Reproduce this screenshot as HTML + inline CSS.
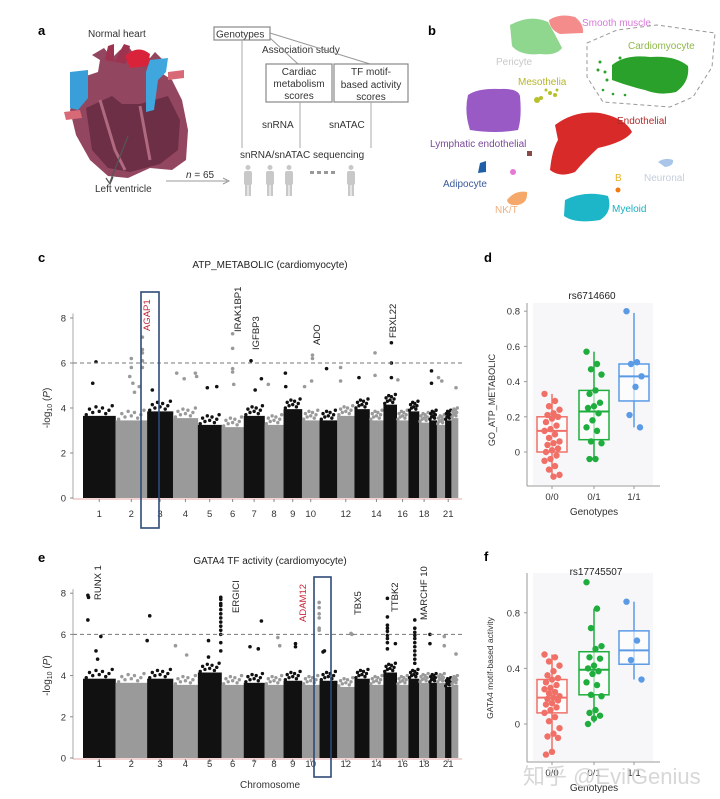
<!DOCTYPE html>
<html><head><meta charset="utf-8">
<style>
html,body{margin:0;padding:0;background:#fff;}
svg{display:block;font-family:"Liberation Sans","Noto Sans CJK SC",sans-serif;}
</style></head>
<body>
<svg id="fig" width="720" height="799" viewBox="0 0 720 799" xmlns="http://www.w3.org/2000/svg">
<rect width="720" height="799" fill="#fff"/>
<!-- panel a -->
<g>
<text x="38" y="35" font-size="13" font-weight="bold">a</text>
<text x="88" y="37" font-size="10" fill="#333">Normal heart</text>
<g>
<path d="M80 78 L98 72 L100 60 L92 55 L104 48 L112 58 L120 50 L128 46 L134 54 L150 58 L155 52 L165 62 L160 72 L172 80 L182 100 L188 130 L186 160 L172 170 L150 168 L128 178 L108 176 L90 160 L76 135 L70 110 Z" fill="#93465f"/>
<path d="M86 108 L112 96 L122 104 L140 104 L168 96 L180 120 L178 150 L160 164 L130 172 L108 168 L92 150 Z" fill="#6d2f46"/>
<path d="M100 100 L115 150 L125 170 M140 106 L150 160" stroke="#b06a80" stroke-width="3" fill="none"/>
<path d="M105 60 L108 46 L114 44 L114 62 L124 44 L130 46 L126 64 Z" fill="#9e3350"/>
<path d="M125 56 Q138 44 150 54 L148 66 L130 68 Z" fill="#d8233b"/>
<path d="M70 72 L88 70 L88 98 L78 110 L70 108 Z" fill="#3a9fd8"/>
<path d="M150 60 L168 58 L166 72 L158 80 L154 110 L146 112 L146 72 Z" fill="#3fa7de"/>
<path d="M64 112 L80 110 L82 118 L66 120 Z" fill="#d86a78"/>
<path d="M168 72 L184 70 L184 78 L168 80 Z" fill="#d86a78"/>
<path d="M128 136 L110 182" stroke="#555" stroke-width="1.2"/>
<path d="M106 178 L110 184 L113 177" fill="none" stroke="#555" stroke-width="1.2"/>
</g>
<text x="95" y="192" font-size="10" fill="#333">Left ventricle</text>
<text x="186" y="178" font-size="10" fill="#333"><tspan font-style="italic">n</tspan> = 65</text>
<line x1="166" y1="181" x2="227" y2="181" stroke="#999" stroke-width="1"/>
<path d="M223 178 L229 181 L223 184" fill="none" stroke="#999"/>
<rect x="214" y="27" width="56" height="13" fill="#fff" stroke="#888" stroke-width="1.2"/>
<text x="216" y="37.5" font-size="10" fill="#333">Genotypes</text>
<text x="262" y="53" font-size="10" fill="#333">Association study</text>
<line x1="270" y1="33" x2="370" y2="64" stroke="#999"/>
<line x1="270" y1="38" x2="298" y2="64" stroke="#999"/>
<line x1="242" y1="40" x2="242" y2="148" stroke="#aaa"/>
<rect x="266" y="64" width="66" height="38" fill="#fff" stroke="#888" stroke-width="1.2"/>
<text x="299" y="75" font-size="10" fill="#333" text-anchor="middle">Cardiac</text>
<text x="299" y="87" font-size="10" fill="#333" text-anchor="middle">metabolism</text>
<text x="299" y="99" font-size="10" fill="#333" text-anchor="middle">scores</text>
<rect x="334" y="64" width="74" height="38" fill="#fff" stroke="#888" stroke-width="1.2"/>
<text x="371" y="75" font-size="10" fill="#333" text-anchor="middle">TF motif-</text>
<text x="371" y="88" font-size="10" fill="#333" text-anchor="middle">based activity</text>
<text x="371" y="100" font-size="10" fill="#333" text-anchor="middle">scores</text>
<line x1="300" y1="102" x2="300" y2="148" stroke="#aaa"/>
<line x1="371" y1="102" x2="371" y2="148" stroke="#aaa"/>
<text x="262" y="128" font-size="10" fill="#333">snRNA</text>
<text x="329" y="128" font-size="10" fill="#333">snATAC</text>
<text x="240" y="158" font-size="10" fill="#333">snRNA/snATAC sequencing</text>
<g fill="#c8c8c8">
<g transform="translate(248,165)"><circle cx="0" cy="2.5" r="2.5"/><rect x="-4" y="6" width="8" height="14" rx="2"/><rect x="-3" y="19" width="2.5" height="12"/><rect x="0.5" y="19" width="2.5" height="12"/></g>
<g transform="translate(270,165)"><circle cx="0" cy="2.5" r="2.5"/><rect x="-4" y="6" width="8" height="14" rx="2"/><rect x="-3" y="19" width="2.5" height="12"/><rect x="0.5" y="19" width="2.5" height="12"/></g>
<g transform="translate(289,165)"><circle cx="0" cy="2.5" r="2.5"/><rect x="-4" y="6" width="8" height="14" rx="2"/><rect x="-3" y="19" width="2.5" height="12"/><rect x="0.5" y="19" width="2.5" height="12"/></g>
<g transform="translate(351,165)"><circle cx="0" cy="2.5" r="2.5"/><rect x="-4" y="6" width="8" height="14" rx="2"/><rect x="-3" y="19" width="2.5" height="12"/><rect x="0.5" y="19" width="2.5" height="12"/></g>
<rect x="310" y="171" width="4" height="3" fill="#999"/><rect x="317" y="171" width="4" height="3" fill="#999"/><rect x="324" y="171" width="4" height="3" fill="#999"/><rect x="331" y="171" width="4" height="3" fill="#999"/>
</g>
</g>
<!-- panel b -->
<g>
<text x="428" y="35" font-size="13" font-weight="bold">b</text>
<path d="M510 25 Q530 14 548 22 Q556 36 562 48 Q556 56 540 54 Q520 56 512 46 Z" fill="#8fd68e"/>
<path d="M549 20 Q560 13 575 17 Q584 24 583 33 L560 34 Q550 30 549 20 Z" fill="#f48c8c"/>
<path d="M587 43 L617 30 L657 25 L715 33 L712 67 L693 97 L670 107 L603 102 L587 77 Z" fill="none" stroke="#999" stroke-dasharray="4,3"/>
<path d="M612 65 Q625 54 650 57 Q675 55 688 66 Q690 82 676 92 Q660 96 645 90 Q628 86 612 80 Z" fill="#2aa12a"/>
<g fill="#2aa12a"><circle cx="600" cy="62" r="1.5"/><circle cx="605" cy="72" r="1.5"/><circle cx="598" cy="70" r="1.5"/><circle cx="607" cy="80" r="1.5"/><circle cx="603" cy="90" r="1.3"/><circle cx="613" cy="94" r="1.3"/><circle cx="625" cy="95" r="1.3"/><circle cx="620" cy="58" r="1.5"/></g>
<path d="M468 95 Q478 88 500 89 Q518 88 520 96 Q522 118 518 130 Q495 134 470 130 Q464 112 468 95 Z" fill="#9a5ac6"/>
<g fill="#b7c12a"><circle cx="537" cy="100" r="3"/><circle cx="541" cy="98" r="2"/><circle cx="550" cy="93" r="2"/><circle cx="555" cy="95" r="2"/><circle cx="546" cy="90" r="1.5"/><circle cx="557" cy="90" r="1.5"/></g>
<path d="M555 125 Q575 110 600 113 Q625 118 632 132 Q625 142 598 148 Q585 160 575 172 Q560 178 550 170 Q552 150 558 140 Z" fill="#d92a2a"/>
<rect x="527" y="151" width="5" height="5" fill="#8a4a4a"/>
<path d="M480 163 L486 161 L486 172 L478 173 Z" fill="#1f5fa8"/>
<circle cx="513" cy="172" r="3" fill="#e37ad6"/>
<path d="M507 200 Q515 190 527 192 Q528 203 518 205 Q508 206 507 200 Z" fill="#f5a86a"/>
<path d="M565 200 Q585 190 608 196 Q613 212 600 220 Q575 224 564 216 Z" fill="#1cb6c8"/>
<circle cx="618" cy="190" r="2.5" fill="#f07a10"/>
<path d="M658 162 Q665 157 673 160 Q674 166 665 167 Z" fill="#a9c5e8"/>
<g font-size="10">
<text x="582" y="26" fill="#d77ad8">Smooth muscle</text>
<text x="496" y="65" fill="#c8c8c8">Pericyte</text>
<text x="628" y="49" fill="#8fb84a">Cardiomyocyte</text>
<text x="518" y="85" fill="#b5b52a">Mesothelia</text>
<text x="617" y="124" fill="#b02a2a">Endothelial</text>
<text x="430" y="147" fill="#7a4a9a">Lymphatic endothelial</text>
<text x="443" y="187" fill="#3a5a9a">Adipocyte</text>
<text x="495" y="213" fill="#f0b080">NK/T</text>
<text x="612" y="212" fill="#1ab0c0">Myeloid</text>
<text x="615" y="181" fill="#e8b020">B</text>
<text x="644" y="181" fill="#c4cedc">Neuronal</text>
</g>
</g>
<text x="38" y="262" font-size="13" font-weight="bold">c</text>
<text x="38" y="562" font-size="13" font-weight="bold">e</text>
<text x="484" y="262" font-size="13" font-weight="bold">d</text>
<text x="484" y="561" font-size="13" font-weight="bold">f</text>
<g id="manC"></g>
<g id="manE"></g>
<g id="boxD"></g>
<g id="boxF"></g>
<text x="523" y="784" font-size="22" fill="#d0d0d0" fill-opacity="0.85">知乎 @EvilGenius</text>
</svg>
<script>
// ---- chart data ----
const chromLengths = [249,243,198,191,181,171,159,146,141,135,135,133,115,107,102,90,81,78,59,63,48,51];
const chromTickLabels = [1,2,3,4,5,6,7,8,9,10,12,14,16,18,21];
const yTicksManhattan = [0,2,4,6,8];
const massTopC = [4.0,3.8,4.2,3.9,3.6,3.5,4.0,3.6,4.3,3.8,3.8,4.0,4.3,3.8,4.5,3.8,4.2,3.7,3.8,3.6,3.8,3.9];
const hitChromC = [1,1,2,2,2,2,2,2,2,2,2,2,2,3,4,4,4,4,5,5,6,6,6,6,6,7,7,7,8,9,9,10,10,10,10,11,12,12,13,14,14,15,15,15,16,19,19,20,20,22];
const hitPosC = [0.4,0.3,0.5,0.5,0.45,0.55,0.6,0.85,0.85,0.85,0.85,0.85,0.75,0.2,0.15,0.45,0.9,0.95,0.4,0.8,0.5,0.5,0.5,0.5,0.55,0.35,0.85,0.55,0.2,0.1,0.12,0.6,0.6,0.55,0.15,0.4,0.2,0.2,0.3,0.4,0.4,0.6,0.6,0.6,0.1,0.3,0.3,0.2,0.6,0.7];
const hitValC = [6.05,5.1,6.2,5.8,5.4,5.1,4.7,7.15,6.6,6.45,6.1,5.8,4.95,4.8,5.55,5.3,5.55,5.4,4.9,4.95,7.3,6.65,5.75,5.6,5.05,6.1,5.3,4.8,5.05,5.55,4.95,6.35,6.2,5.2,4.95,5.75,5.8,5.2,5.35,6.45,5.45,6.9,6.0,5.35,5.25,5.65,5.1,5.35,5.2,4.9];
const massTopE = [4.2,4.0,4.2,3.9,4.5,3.9,4.0,3.9,4.1,3.9,4.1,3.8,4.2,3.9,4.5,3.9,4.2,4.0,4.0,4.0,3.8,3.9];
const hitChromE = [1,1,1,1,1,1,3,3,4,4,5,5,5,5,5,5,5,5,5,5,5,5,5,5,5,7,7,7,8,8,9,9,10,10,10,10,10,10,11,11,12,12,15,15,15,15,15,15,15,15,15,15,17,17,17,17,17,17,17,17,17,17,17,19,19,20,20,22];
const hitPosE = [0.15,0.17,0.15,0.55,0.4,0.45,0.1,0.0,0.1,0.55,0.45,0.45,0.97,0.97,0.97,0.97,0.97,0.97,0.97,0.97,0.97,0.97,0.97,0.97,0.97,0.85,0.3,0.7,0.7,0.8,0.65,0.65,0.98,0.98,0.98,0.98,0.98,0.98,0.2,0.28,0.8,0.85,0.3,0.3,0.3,0.3,0.3,0.3,0.3,0.3,0.3,0.9,0.6,0.6,0.6,0.6,0.6,0.6,0.6,0.6,0.6,0.6,0.6,0.1,0.1,0.9,0.9,0.7];
const hitValE = [7.9,7.8,6.7,5.9,5.2,4.8,6.9,5.7,5.45,5.0,5.7,4.9,7.8,7.7,7.5,7.4,7.2,7.0,6.8,6.6,6.4,6.2,6.0,5.6,5.2,6.65,5.4,5.3,5.85,5.45,5.55,5.4,7.55,7.3,7.0,6.8,6.3,6.2,5.15,5.2,6.05,6.0,7.75,6.85,6.45,6.3,6.15,5.95,5.8,5.6,5.3,5.55,6.7,6.3,6.1,5.95,5.8,5.6,5.4,5.2,5.0,4.8,4.6,6.0,5.55,5.9,5.45,5.05];
const genesC = ["AGAP1","IRAK1BP1","IGFBP3","ADO","FBXL22"];
const genesE = ["RUNX 1","ERGICI","ADAM12","TBX5","TTBK2","MARCHF 10"];
const dGroups = ["0/0","0/1","1/1"];
const dVals00 = [0.33,0.29,0.26,0.24,0.22,0.21,0.2,0.19,0.17,0.15,0.13,0.12,0.1,0.08,0.06,0.05,0.04,0.02,0.01,0,-0.02,-0.04,-0.05,-0.08,-0.1,-0.13,-0.14];
const dVals01 = [0.57,0.5,0.47,0.44,0.35,0.33,0.28,0.26,0.25,0.22,0.18,0.14,0.12,0.06,0.05,-0.04,-0.04];
const dVals11 = [0.8,0.51,0.5,0.43,0.37,0.21,0.14];
const dStats = [[-0.14,0,0.12,0.2,0.33],[-0.04,0.07,0.23,0.35,0.57],[0.14,0.29,0.43,0.5,0.79]];
const dTicks = [0,0.2,0.4,0.6,0.8];
const fVals00 = [0.5,0.48,0.45,0.42,0.38,0.35,0.33,0.32,0.3,0.28,0.26,0.25,0.23,0.22,0.2,0.19,0.18,0.17,0.15,0.14,0.12,0.1,0.08,0.05,0.02,-0.03,-0.07,-0.09,-0.1,-0.2,-0.22];
const fVals01 = [1.02,0.83,0.69,0.56,0.54,0.48,0.47,0.42,0.4,0.38,0.36,0.3,0.28,0.21,0.2,0.1,0.08,0.06,0.04,0];
const fVals11 = [0.88,0.6,0.46,0.32];
const fStats = [[-0.22,0.08,0.19,0.32,0.5],[0.01,0.21,0.39,0.52,0.83],[0.32,0.43,0.53,0.67,0.88]];
const fTicks = [0,0.4,0.8];

const NS = "http://www.w3.org/2000/svg";
function mk(parent, tag, attrs, txt){
  const e = document.createElementNS(NS, tag);
  for (const k in attrs) e.setAttribute(k, attrs[k]);
  if (txt !== undefined) e.textContent = txt;
  parent.appendChild(e);
  return e;
}
const total = chromLengths.reduce((a,b)=>a+b,0);
const starts = []; let acc=0; chromLengths.forEach(l=>{starts.push(acc); acc+=l;});

function manhattan(g, cfg){
  const x0=83, x1=458;
  const xs = v => x0 + v/total*(x1-x0);
  const ys = v => cfg.yZero - v*cfg.yUnit;
  const t = mk(g,'text',{x:270,y:cfg.titleY,'font-size':10,'text-anchor':'middle',fill:'#222'},cfg.title);
  
  
  chromLengths.forEach((l,i)=>{
    const col = i%2===0 ? '#111' : '#9a9a9a';
    const top = cfg.mass[i]-0.35;
    const r = mk(g,'rect',{x:xs(starts[i]),y:ys(top),width:xs(starts[i]+l)-xs(starts[i])+0.3,height:ys(0)-ys(top),fill:col});
    
    
    // ragged top edge points
    const offs=[0.05,0.3,0.15,0.4,0.2,0.35,0.1,0.25,0.45];
    for(let k=1;k<10;k++){
      const c = mk(g,'circle',{cx:xs(starts[i]+l*k/10),cy:ys(top+offs[k-1]),r:1.7,fill:col});
      
      
    }
  });
  cfg.hc.forEach((c,j)=>{
    const i=c-1;
    const col = i%2===0 ? '#111' : '#9a9a9a';
    const p = mk(g,'circle',{cx:xs(starts[i]+chromLengths[i]*cfg.hp[j]),cy:ys(cfg.hv[j]),r:1.8,fill:col});
    
    
  });
  const ax = mk(g,'line',{x1:73,y1:ys(0)+1,x2:73,y2:ys(8.2),stroke:'#aaa'});
  
  
  const bx = mk(g,'line',{x1:73,y1:ys(0)+1,x2:462,y2:ys(0)+1,stroke:'#e6a8a8'});
  
  
  yTicksManhattan.forEach(v=>{
    mk(g,'line',{x1:70,x2:73,y1:ys(v),y2:ys(v),stroke:'#888'});
    const tl = mk(g,'text',{x:66,y:ys(v)+3.5,'font-size':9.5,'text-anchor':'end',fill:'#333'},v);
    
    
  });
  const th = mk(g,'line',{x1:73,x2:462,y1:ys(6),y2:ys(6),stroke:'#777','stroke-dasharray':'4,3'});
  
  
  chromTickLabels.forEach(c=>{
    const i=c-1, xm = xs(starts[i]+chromLengths[i]/2);
    mk(g,'line',{x1:xm,x2:xm,y1:ys(0)+1,y2:ys(0)+4,stroke:'#888'});
    const tl = mk(g,'text',{x:xm,y:cfg.tickY,'font-size':9.5,'text-anchor':'middle',fill:'#333'},c);
    
    
  });
  const yl = mk(g,'text',{transform:`translate(50,${ys(4)}) rotate(-90)`,'font-size':10,'text-anchor':'middle',fill:'#333'});
  yl.innerHTML = '-log<tspan font-size="7" dy="2">10</tspan><tspan dy="-2"> (</tspan><tspan font-style="italic">P</tspan>)';
  
  
  const hb = mk(g,'rect',{x:cfg.box[0],y:cfg.box[1],width:cfg.box[2],height:cfg.box[3],fill:'none',stroke:'#2e4a78','stroke-width':1.6});
  
  
  cfg.genes.forEach((gn,k)=>{
    const [gx,gy,red] = cfg.gpos[k];
    const tl = mk(g,'text',{transform:`translate(${gx},${gy}) rotate(-90)`,'font-size':9.5,fill:red?'#c8283a':'#222'},gn);
    
    
  });
  if(cfg.xTitle){
    const xt = mk(g,'text',{x:270,y:788,'font-size':10,'text-anchor':'middle',fill:'#333'},cfg.xTitle);
    
    
  }
}
manhattan(document.getElementById('manC'),{title:'ATP_METABOLIC (cardiomyocyte)',titleY:268,yZero:498,yUnit:22.5,tickY:517,
  mass:massTopC,hc:hitChromC,hp:hitPosC,hv:hitValC,box:[141,292,18,236],genes:genesC,
  gpos:[[150,331,true],[241,332,false],[259,350,false],[320,345,false],[396,338,false]]});
manhattan(document.getElementById('manE'),{title:'GATA4 TF activity (cardiomyocyte)',titleY:564,yZero:758,yUnit:20.6,tickY:767,
  mass:massTopE,hc:hitChromE,hp:hitPosE,hv:hitValE,box:[314,577,17,200],genes:genesE,xTitle:'Chromosome',
  gpos:[[101,600,false],[239,613,false],[306,622,true],[361,615,false],[398,612,false],[427,620,false]]});

const colors = ['#f07068','#1fae3d','#5b9be6'];
function boxplot(g,cfg){
  const ys = v => cfg.y0 - v*cfg.unit;
  const xc = [552,594,634];
  const bg = mk(g,'rect',{x:533,y:cfg.top,width:120,height:cfg.axisY-cfg.top-1,fill:'#f7f7f9'});
  
  
  const t = mk(g,'text',{x:cfg.titleX,y:cfg.titleY,'font-size':10,'text-anchor':'middle',fill:'#222'},cfg.title);
  
  
  const ay = mk(g,'line',{x1:527,x2:527,y1:cfg.top,y2:cfg.axisY,stroke:'#999'});
  
  
  const ax = mk(g,'line',{x1:527,x2:660,y1:cfg.axisY,y2:cfg.axisY,stroke:'#999'});
  
  
  cfg.ticks.forEach(v=>{
    mk(g,'line',{x1:524,x2:527,y1:ys(v),y2:ys(v),stroke:'#999'});
    const tl = mk(g,'text',{x:520,y:ys(v)+3.5,'font-size':9.5,'text-anchor':'end',fill:'#333'},String(v));
    
    
  });
  dGroups.forEach((gname,i)=>{
    const c=colors[i], s=cfg.stats[i], x=xc[i];
    mk(g,'line',{x1:x,x2:x,y1:cfg.axisY,y2:cfg.axisY+3,stroke:'#999'});
    const tl = mk(g,'text',{x:x,y:cfg.axisY+14,'font-size':9.5,'text-anchor':'middle',fill:'#333'},gname);
    
    
    const w = mk(g,'line',{x1:x,x2:x,y1:ys(s[0]),y2:ys(s[4]),stroke:c,'stroke-width':1.5});
    
    
    const b = mk(g,'rect',{x:x-15,y:ys(s[3]),width:30,height:ys(s[1])-ys(s[3]),fill:'#fff','fill-opacity':0.6,stroke:c,'stroke-width':1.5});
    
    
    const m = mk(g,'line',{x1:x-15,x2:x+15,y1:ys(s[2]),y2:ys(s[2]),stroke:c,'stroke-width':2});
    
    
    cfg.vals[i].forEach((v,j)=>{
      const jit = ((j*7)%11-5)*1.5;
      const p = mk(g,'circle',{cx:x+jit,cy:ys(v),r:3.2,fill:c});
      
      
    });
  });
  const xt = mk(g,'text',{x:594,y:cfg.axisY+29,'font-size':10,'text-anchor':'middle',fill:'#333'},'Genotypes');
  
  
  const yt = mk(g,'text',{transform:`translate(${cfg.ylX},${cfg.ylY}) rotate(-90)`,'font-size':cfg.ylSize,'text-anchor':'middle',fill:'#333'},cfg.ylab);
  
  
}
boxplot(document.getElementById('boxD'),{y0:452,unit:176,top:303,axisY:486,ticks:dTicks,stats:dStats,vals:[dVals00,dVals01,dVals11],
  title:'rs6714660',titleX:592,titleY:299,ylab:'GO_ATP_METABOLIC',ylX:495,ylY:400,ylSize:9});
boxplot(document.getElementById('boxF'),{y0:724,unit:139,top:573,axisY:762,ticks:fTicks,stats:fStats,vals:[fVals00,fVals01,fVals11],
  title:'rs17745507',titleX:596,titleY:575,ylab:'GATA4 motif-based activity',ylX:493,ylY:668,ylSize:8.5});
</script>
</body></html>
